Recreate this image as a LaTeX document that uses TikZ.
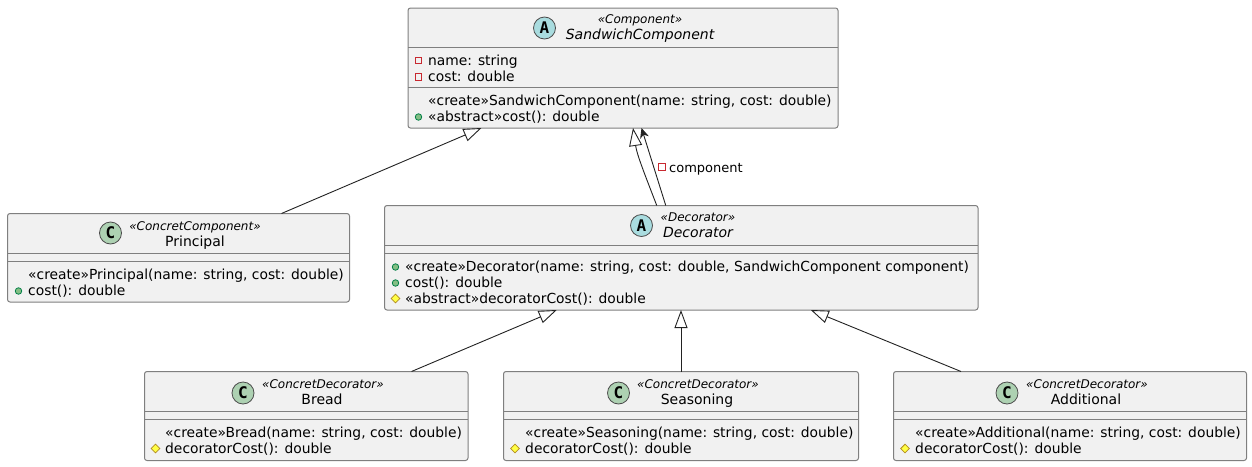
\documentclass[tikz,border=0pt]{standalone}
\usepackage{fontspec}
\setmainfont{DejaVu Sans}
\newfontfamily\iconfont{DejaVu Sans Mono}
\usetikzlibrary{arrows.meta,shapes.geometric}
\definecolor{boxfill}{HTML}{F1F1F1}
\definecolor{boxline}{HTML}{7F7F7F}
\definecolor{edgeline}{HTML}{222222}
\tikzset{
    classbox/.style={draw=boxline,fill=boxfill,rounded corners=2.5pt,line width=1pt,anchor=north west,inner sep=0pt,outer sep=0pt},
    sepline/.style={draw=boxline,line width=1pt},
    stereo/.style={anchor=base,inner sep=0pt,font=\fontsize{12}{14}\selectfont\itshape},
    title/.style={anchor=base,inner sep=0pt,font=\fontsize{14}{16}\selectfont},
    abstitle/.style={title,font=\fontsize{14}{16}\selectfont\itshape},
    member/.style={anchor=base west,inner sep=0pt,font=\fontsize{13.85}{16}\selectfont},
    edgelabel/.style={anchor=base west,inner sep=0pt,font=\fontsize{13}{15}\selectfont},
    iconC/.style={circle,draw=black!70,fill={rgb,255:red,173;green,209;blue,178},line width=.8pt,minimum size=22pt,inner sep=0pt,font=\iconfont\bfseries\fontsize{16}{16}\selectfont},
    iconA/.style={iconC,fill={rgb,255:red,169;green,220;blue,223}},
    vispriv/.style={rectangle,draw={rgb,255:red,200;green,41;blue,48},line width=1pt,minimum size=6.5pt,inner sep=0pt},
    vispub/.style={circle,draw={rgb,255:red,3;green,128;blue,72},fill={rgb,255:red,132;green,190;blue,132},line width=.8pt,minimum size=6.5pt,inner sep=0pt},
    visprot/.style={diamond,draw={rgb,255:red,179;green,141;blue,34},fill={rgb,255:red,255;green,255;blue,68},line width=.8pt,minimum size=9pt,inner sep=0pt},
    inherit/.style={draw=edgeline,line width=.9pt,-{Triangle[open,length=18pt,width=13pt]}},
    assoc/.style={draw=edgeline,line width=.9pt,-{Stealth[length=10pt,width=9pt,inset=3pt]}}
}
\begin{document}
\begin{tikzpicture}[x=1pt,y=-1pt]
    \useasboundingbox (0,0) rectangle (1252,466);

    % abstract component
    \node[classbox,minimum width=430pt,minimum height=120pt] (comp) at (408,8) {};
    \draw[sepline] (comp.west |- 0,47) -- (comp.east |- 0,47);
    \draw[sepline] (comp.west |- 0,87) -- (comp.east |- 0,87);
    \node[iconA] (compicon) at (544.5,28) {A};
    \node[stereo] (compstereo) at (640,23) {«Component»};
    \node[abstitle] (comptitle) at (640,39) {SandwichComponent};
    \node[vispriv] (compv1) at (418.5,60.5) {};
    \node[member] (compm1) at (428,65) {name: string};
    \node[vispriv] (compv2) at (418.5,77) {};
    \node[member] (compm2) at (428,81) {cost: double};
    \node[member] (compm3) at (428,105) {«create»SandwichComponent(name: string, cost: double)};
    \node[vispub] (compv4) at (418.5,117) {};
    \node[member] (compm4) at (428,121) {«abstract»cost(): double};

    % principal
    \node[classbox,minimum width=342pt,minimum height=88.5pt] (principal) at (7.5,213.5) {};
    \draw[sepline] (principal.west |- 0,253.5) -- (principal.east |- 0,253.5);
    \draw[sepline] (principal.west |- 0,261.5) -- (principal.east |- 0,261.5);
    \node[iconC] (principalicon) at (110.5,233) {C};
    \node[stereo] (principalstereo) at (195,230) {«ConcretComponent»};
    \node[title] (principaltitle) at (195,246) {Principal};
    \node[member] (principalm1) at (28,279) {«create»Principal(name: string, cost: double)};
    \node[vispub] (principalv2) at (18.5,291) {};
    \node[member] (principalm2) at (28,295) {cost(): double};

    % decorator
    \node[classbox,minimum width=593.5pt,minimum height=104.5pt] (decorator) at (384.5,205.5) {};
    \draw[sepline] (decorator.west |- 0,245.5) -- (decorator.east |- 0,245.5);
    \draw[sepline] (decorator.west |- 0,253.5) -- (decorator.east |- 0,253.5);
    \node[iconA] (decoratoricon) at (641.5,225.5) {A};
    \node[stereo] (decoratorstereo) at (698,221) {«Decorator»};
    \node[abstitle] (decoratortitle) at (698,237) {Decorator};
    \node[vispub] (decoratorv1) at (395.5,267) {};
    \node[member] (decoratorm1) at (405,271) {«create»Decorator(name: string, cost: double, SandwichComponent component)};
    \node[vispub] (decoratorv2) at (395.5,283) {};
    \node[member] (decoratorm2) at (405,287) {cost(): double};
    \node[visprot] (decoratorv3) at (395.5,298.5) {};
    \node[member] (decoratorm3) at (405,303) {«abstract»decoratorCost(): double};

    % concrete decorators
    \node[classbox,minimum width=323.5pt,minimum height=89pt] (bread) at (144.5,371.5) {};
    \draw[sepline] (bread.west |- 0,411.5) -- (bread.east |- 0,411.5);
    \draw[sepline] (bread.west |- 0,419.5) -- (bread.east |- 0,419.5);
    \node[iconC] (breadicon) at (243,393) {C};
    \node[stereo] (breadstereo) at (323,388) {«ConcretDecorator»};
    \node[title] (breadtitle) at (322,404) {Bread};
    \node[member] (breadm1) at (165,437) {«create»Bread(name: string, cost: double)};
    \node[visprot] (breadv2) at (155.5,448.5) {};
    \node[member] (breadm2) at (165,453) {decoratorCost(): double};

    \node[classbox,minimum width=355pt,minimum height=89pt] (seasoning) at (503.5,371.5) {};
    \draw[sepline] (seasoning.west |- 0,411.5) -- (seasoning.east |- 0,411.5);
    \draw[sepline] (seasoning.west |- 0,419.5) -- (seasoning.east |- 0,419.5);
    \node[iconC] (seasoningicon) at (618.5,393) {C};
    \node[stereo] (seasoningstereo) at (698,388) {«ConcretDecorator»};
    \node[title] (seasoningtitle) at (697,404) {Seasoning};
    \node[member] (seasoningm1) at (525,437) {«create»Seasoning(name: string, cost: double)};
    \node[visprot] (seasoningv2) at (515,448.5) {};
    \node[member] (seasoningm2) at (525,453) {decoratorCost(): double};

    \node[classbox,minimum width=353pt,minimum height=89pt] (additional) at (893.5,371.5) {};
    \draw[sepline] (additional.west |- 0,411.5) -- (additional.east |- 0,411.5);
    \draw[sepline] (additional.west |- 0,419.5) -- (additional.east |- 0,419.5);
    \node[iconC] (additionalicon) at (1007,393) {C};
    \node[stereo] (additionalstereo) at (1087,388) {«ConcretDecorator»};
    \node[title] (additionaltitle) at (1086,404) {Additional};
    \node[member] (additionalm1) at (915,437) {«create»Additional(name: string, cost: double)};
    \node[visprot] (additionalv2) at (905,448.5) {};
    \node[member] (additionalm2) at (915,453) {decoratorCost(): double};

    % relations
    \draw[inherit] ([xshift=-68pt]principal.north east) -- ([xshift=-141.5pt]comp.south);
    \draw[inherit] ([xshift=-24.5pt]decorator.north) .. controls (645,175) and (637,155) .. ([xshift=10pt]comp.south);
    \draw[assoc] ([xshift=-15.5pt]decorator.north) -- ([xshift=18.5pt]comp.south);
    \node[vispriv] (componentv) at (662,167) {};
    \node[edgelabel] (componentlabel) at (669,172) {component};
    \draw[inherit] ([xshift=-56.5pt]bread.north east) -- ([xshift=-124.5pt]decorator.south);
    \draw[inherit] (seasoning.north) -- ([xshift=-0.25pt]decorator.south);
    \draw[inherit] ([xshift=67.5pt]additional.north west) -- ([xshift=129.5pt]decorator.south);
\end{tikzpicture}
\end{document}
